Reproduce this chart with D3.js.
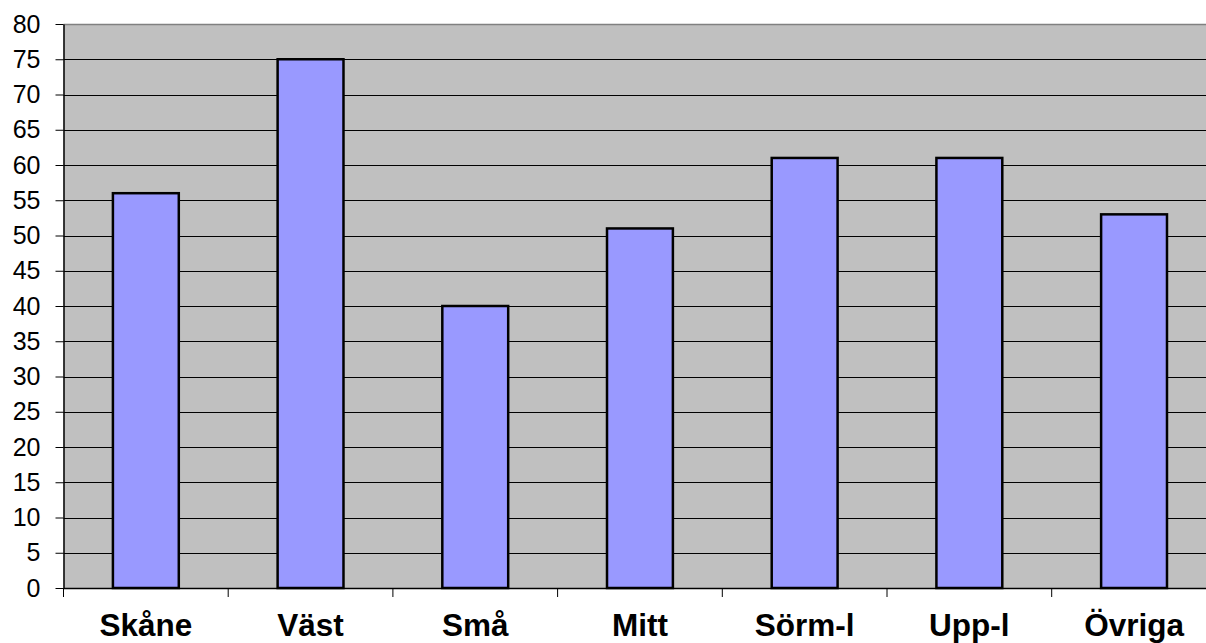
<!DOCTYPE html>
<html>
<head>
<meta charset="utf-8">
<script src="https://cdn.jsdelivr.net/npm/d3@7"></script>
<style>
    body { margin: 0; background: #fff; }
    svg { display: block; }
</style>
</head>
<body>
<div id="chart"></div>
<script>
const categories = ['Skåne', 'Väst', 'Små', 'Mitt', 'Sörm-l', 'Upp-l', 'Övriga'];
const values = [56, 75, 40, 51, 61, 61, 53];
const yTicks = d3.range(0, 81, 5);

const width = 1206;
const height = 643;
const margin = { top: 24, left: 63.5, bottom: 55 };
const bandWidth = 164.7;

const svg = d3.select('#chart')
    .append('svg')
    .attr('width', width)
    .attr('height', height);

const x = d3.scaleBand()
    .domain(categories)
    .range([margin.left, margin.left + bandWidth * categories.length])
    .paddingInner(0.6)
    .paddingOuter(0.3);

const y = d3.scaleLinear()
    .domain([0, 80])
    .range([height - margin.bottom, margin.top]);

const plotRight = margin.left + bandWidth * categories.length;

// plot background
svg.append('rect')
    .attr('x', margin.left)
    .attr('y', y(80))
    .attr('width', plotRight - margin.left)
    .attr('height', y(0) - y(80))
    .attr('fill', '#c0c0c0');

// gridlines
svg.append('g')
    .selectAll('line')
    .data(yTicks.filter(d => d > 0 && d < 80))
    .enter()
    .append('line')
    .attr('x1', margin.left)
    .attr('x2', plotRight)
    .attr('y1', d => Math.round(y(d)) + 0.5)
    .attr('y2', d => Math.round(y(d)) + 0.5)
    .attr('stroke', '#000')
    .attr('stroke-width', 1);

svg.append('line')
    .attr('x1', margin.left)
    .attr('x2', plotRight)
    .attr('y1', Math.round(y(80)) + 0.5)
    .attr('y2', Math.round(y(80)) + 0.5)
    .attr('stroke', '#808080')
    .attr('stroke-width', 1.5);

// bars
svg.append('g')
    .selectAll('rect')
    .data(values)
    .enter()
    .append('rect')
    .attr('x', (d, i) => x(categories[i]))
    .attr('y', d => y(d))
    .attr('width', x.bandwidth())
    .attr('height', d => y(0) - y(d))
    .attr('fill', '#9999ff')
    .attr('stroke', '#000')
    .attr('stroke-width', 2.5);

// y axis
const yAxis = svg.append('g')
    .attr('transform', `translate(${margin.left},0)`)
    .call(d3.axisLeft(y).tickValues(yTicks).tickSize(8).tickPadding(15).tickSizeOuter(0));
yAxis.select('.domain').attr('stroke', '#000').attr('stroke-width', 1.5);
yAxis.selectAll('.tick line').attr('stroke', '#000');
yAxis.selectAll('.tick text')
    .attr('font-family', 'Arial, "Liberation Sans", sans-serif')
    .attr('font-size', 25)
    .attr('fill', '#000');

// x axis
const xAxis = svg.append('g')
    .attr('transform', `translate(0,${y(0)})`)
    .call(d3.axisBottom(x).tickSize(0).tickPadding(26).tickSizeOuter(0));
xAxis.select('.domain').attr('stroke', '#000').attr('stroke-width', 1.5);
xAxis.selectAll('.tick text')
    .attr('font-family', 'Arial, "Liberation Sans", sans-serif')
    .attr('font-size', 31.5)
    .attr('font-weight', 'bold')
    .attr('fill', '#000');

// category separator ticks
svg.append('g')
    .selectAll('line')
    .data(d3.range(categories.length + 1))
    .enter()
    .append('line')
    .attr('x1', i => margin.left + i * bandWidth)
    .attr('x2', i => margin.left + i * bandWidth)
    .attr('y1', y(0))
    .attr('y2', y(0) + 9)
    .attr('stroke', '#000');
</script>
</body>
</html>
